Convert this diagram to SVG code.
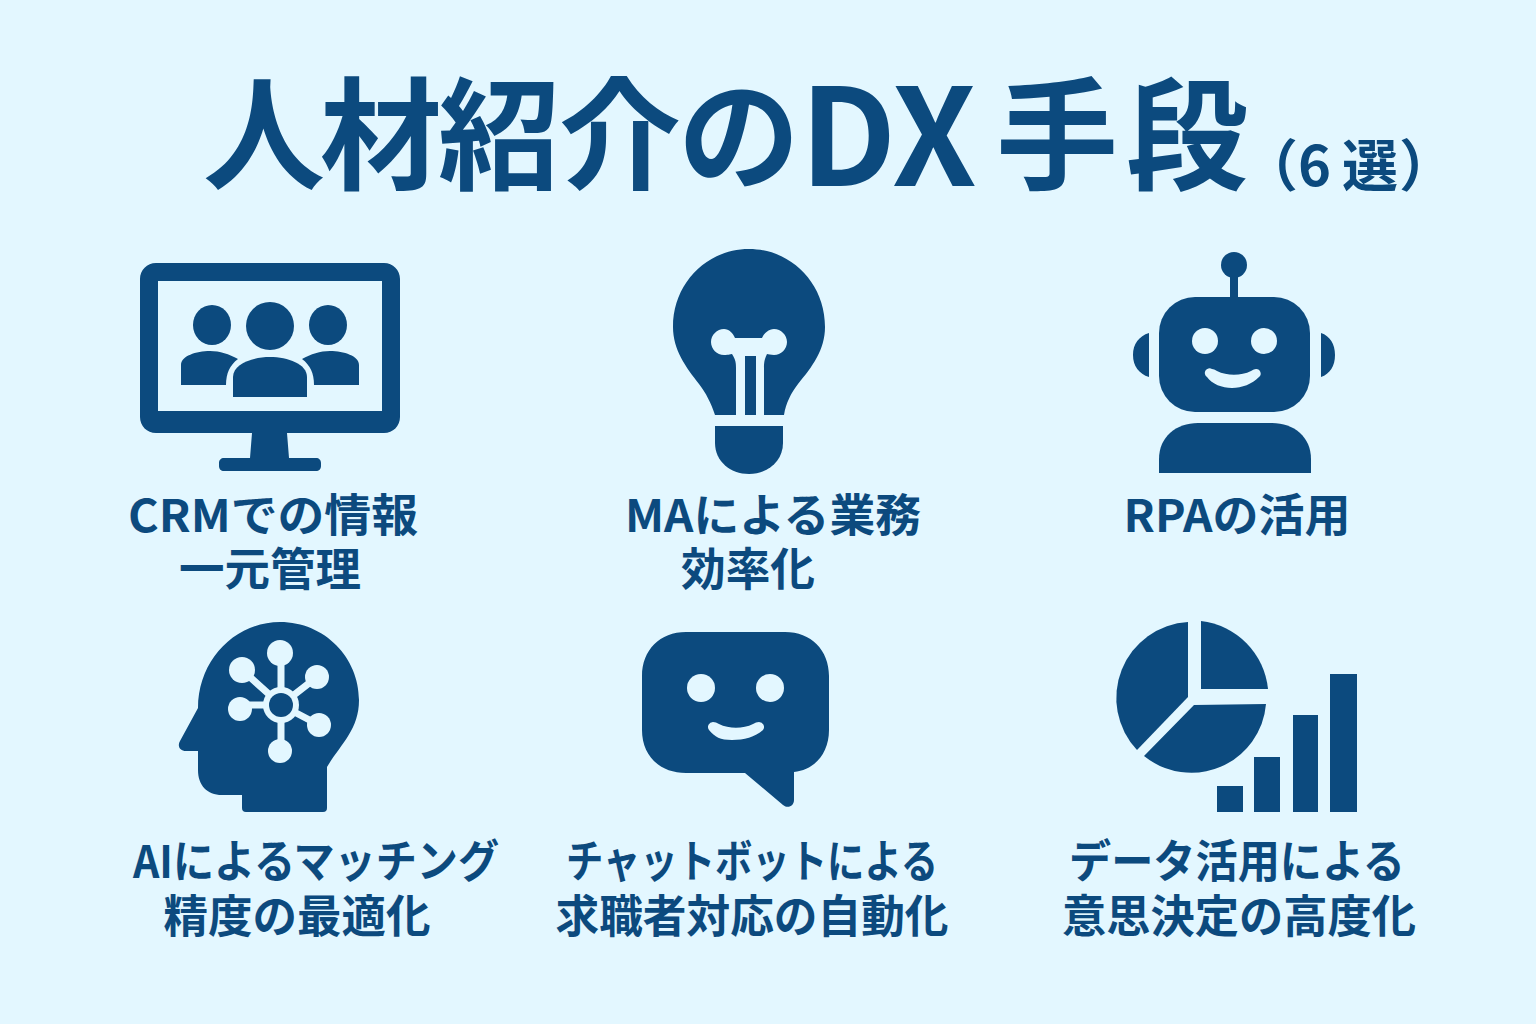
<svg xmlns="http://www.w3.org/2000/svg" width="1536" height="1024" viewBox="0 0 1536 1024">
<style>
text{font-family:"Noto Sans CJK JP","Noto Sans",sans-serif;font-weight:700;fill:#0c4a7e}
.l{font-size:45px;text-anchor:middle}
.f{fill:#0c4a7e}
.b{fill:#e3f7ff}
</style>
<rect width="1536" height="1024" fill="#e3f7ff"/>
<g id="title">
<text y="180" font-size="122"><tspan x="203 320 438 559 678">人材紹介の</tspan><tspan x="800 892" y="186" font-size="135">DX</tspan><tspan x="985 996 1126" y="180"> 手段</tspan></text>
<text y="186" font-size="56" x="1242 1298 1342 1399">（6選）</text>
</g>
<g id="crm">
<path class="f" fill-rule="evenodd" d="M156 263h228c9 0 16 7 16 16v138c0 9-7 16-16 16H156c-9 0-16-7-16-16V279c0-9 7-16 16-16zM158 281v130h224V281z"/>
<path class="f" d="M252 433h35l2 25h27c3 0 5 2 5 5v3c0 3-2 5-5 5H224c-3 0-5-2-5-5v-3c0-3 2-5 5-5h26z"/>
<ellipse class="f" cx="212" cy="325" rx="19" ry="20"/><ellipse class="f" cx="328" cy="325" rx="19" ry="20"/>
<path class="f" d="M181 385v-20c0-9 15-14 29-14 10 0 19 3 28 8-8 6-12 14-12 26zM359 385v-20c0-9-15-14-29-14-10 0-19 3-28 8 8 6 12 14 12 26z"/>
<circle class="f" cx="270" cy="326" r="24"/>
<path class="f" d="M233 397v-20c0-13 19-20 37-20s37 7 37 20v20z"/>
<text class="l" x="273" y="532" textLength="290" lengthAdjust="spacingAndGlyphs">CRMでの情報</text><text class="l" x="270" y="586" textLength="182" lengthAdjust="spacingAndGlyphs">一元管理</text>
</g>
<g id="ma">
<path class="f" d="M749 249C791 249 825 283 825 327C825 350 812 367 798 384C791 393 786 403 784 415H715C711 403 706 393 699 384C686 367 673 350 673 327C673 283 707 249 749 249z"/>
<path class="f" d="M715 426h68v17c0 18-15 31-34 31s-34-13-34-31z"/>
<path class="b" d="M724 329c5 0 9 4 11 9h27c2-5 7-9 12-9 7 0 13 6 13 13s-6 13-13 13c-3 0-6-1-7-1-3 6-3 10-3 14v47h-8v-59h-11v59h-9v-47c0-4 0-8-4-14-1 0-3 1-8 1-7 0-13-6-13-13s6-13 13-13z"/>
<text class="l" x="773" y="532" textLength="296" lengthAdjust="spacingAndGlyphs">MAによる業務</text><text class="l" x="748" y="586" textLength="134" lengthAdjust="spacingAndGlyphs">効率化</text>
</g>
<g id="rpa">
<circle class="f" cx="1234" cy="265" r="13"/><rect class="f" x="1230" y="270" width="8" height="32"/>
<rect class="f" x="1159" y="297" width="151" height="115" rx="36"/>
<path class="f" d="M1149 333v44c-10-3-16-11-16-22s6-19 16-22zM1321 333v44c9-3 14-11 14-22s-5-19-14-22z"/>
<circle class="b" cx="1205" cy="341" r="13"/><circle class="b" cx="1264" cy="341" r="13"/>
<path class="b" d="M1212 369q2 0 5 2c10 5 24 5 34 0q3-2 5-2a4.500 4.500 0 0 1 3 8c-7 7-17 11-27 11s-20-4-25-11a4.500 4.500 0 0 1 5-8z"/>
<path class="f" d="M1159 473v-14c0-22 17-36 39-36h74c22 0 39 14 39 36v14z"/>
<text class="l" x="1237" y="532" textLength="227" lengthAdjust="spacingAndGlyphs">RPAの活用</text>
</g>
<g id="ai">
<path class="f" d="M242 808V795H222C207 795 198 785 198 770V751H186C180 751 177 746 180 741L198 708C198 660 235 622 280 622C325 622 359 658 359 700C359 730 340 745 327 767V808q0 4-4 4H246q-4 0-4-4z"/>
<g stroke="#e3f7ff" stroke-width="7" fill="none"><path d="M281 705V653M281 705L242 670M281 705L317 677M281 705H240M281 705L319 725M281 705V751"/></g>
<g fill="#e3f7ff"><circle cx="280" cy="653" r="13"/><circle cx="280" cy="751" r="12"/><circle cx="242" cy="670" r="13"/><circle cx="317" cy="677" r="12"/><circle cx="240" cy="709" r="12"/><circle cx="319" cy="725" r="12"/><circle cx="281" cy="705" r="18"/></g>
<circle class="f" cx="281" cy="705" r="12"/>
<text class="l" x="316" y="878" textLength="366" lengthAdjust="spacingAndGlyphs">AIによるマッチング</text><text class="l" x="297" y="933" textLength="267" lengthAdjust="spacingAndGlyphs">精度の最適化</text>
</g>
<g id="chat">
<path class="f" d="M686 632h99c26 0 44 18 44 44v54c0 24-15 40-35 42v28c0 6-6 9-11 5L745 773H686c-26 0-44-17-44-43v-54c0-26 18-44 44-44z"/>
<circle class="b" cx="701" cy="688" r="14"/><circle class="b" cx="770" cy="688" r="14"/>
<path class="b" d="M713 722q3 0 6 2c10 5 24 5 34 0q3-2 6-2a5 5 0 0 1 4 8c-8 7-19 10-31 10s-17-3-23-10a5 5 0 0 1 4-8z"/>
<text class="l" x="752" y="878" textLength="372" lengthAdjust="spacingAndGlyphs">チャットボットによる</text><text class="l" x="752" y="933" textLength="393" lengthAdjust="spacingAndGlyphs">求職者対応の自動化</text>
</g>
<g id="data">
<path class="f" d="M1188 622V697L1137 750A76 76 0 0 1 1188 622z"/>
<path class="f" d="M1201 621V689H1268A76 76 0 0 0 1201 621z"/>
<path class="f" d="M1194 705L1266 704A75 75 0 0 1 1144 756z"/>
<rect class="f" x="1217" y="786" width="26" height="26"/><rect class="f" x="1254" y="757" width="26" height="55"/><rect class="f" x="1293" y="715" width="25" height="97"/><rect class="f" x="1330" y="674" width="27" height="138"/>
<text class="l" x="1237" y="878" textLength="336" lengthAdjust="spacingAndGlyphs">データ活用による</text><text class="l" x="1239" y="933" textLength="354" lengthAdjust="spacingAndGlyphs">意思決定の高度化</text>
</g>
</svg>
